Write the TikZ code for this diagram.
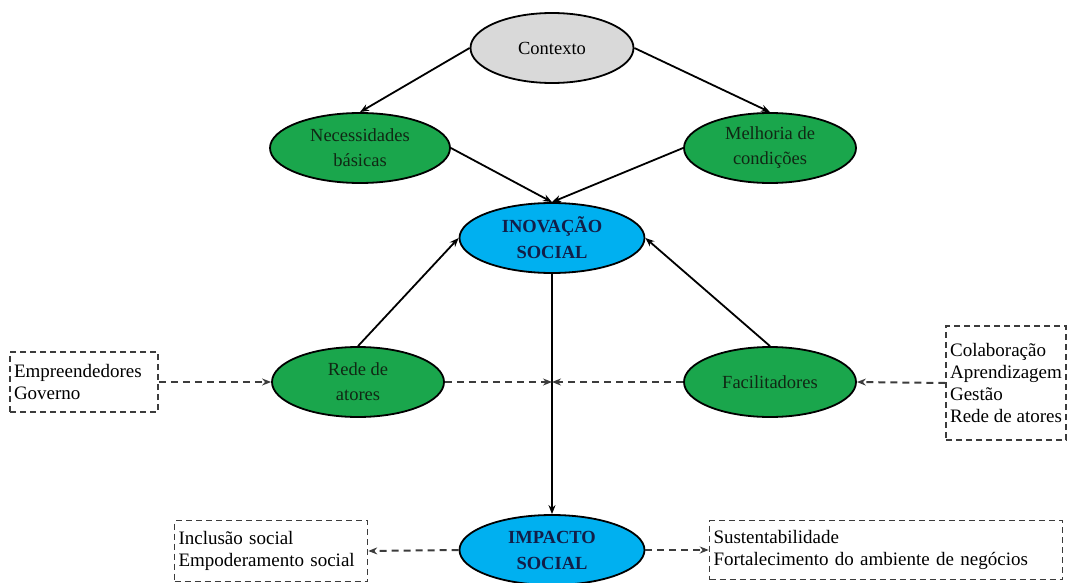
\documentclass[tikz,border=0pt]{standalone}
\usepackage{fontspec}
\setmainfont{Liberation Serif}
\usetikzlibrary{shapes.geometric,arrows.meta}

\definecolor{ellgreen}{RGB}{26,166,76}
\definecolor{ellblue}{RGB}{0,176,240}
\definecolor{ellgray}{RGB}{217,217,217}
\definecolor{navytext}{RGB}{18,30,72}
\definecolor{greentext}{RGB}{16,40,20}
\definecolor{dashgray}{RGB}{60,60,60}

\begin{document}
\begin{tikzpicture}[
        x = 1pt, y = -1pt, % pixel grid, y going down
        ->, % Arrow style
        > = {Stealth[length=9pt,width=7pt]}, % arrow head style
        line width = 1.8pt, % line style
        font = \fontsize{18.5}{25}\selectfont
      ]

      \tikzstyle{state}=[ellipse,draw=black,fill=ellgreen,text=greentext,
        minimum width=172pt,minimum height=70pt,inner sep=0pt,align=center]
      \tikzstyle{core}=[state,fill=ellblue,text=navytext,minimum width=185pt,
        font=\fontsize{18.5}{26}\selectfont\bfseries]
      \tikzstyle{list}=[rectangle,draw=dashgray,line width=1.5pt,
        dash pattern=on 6pt off 4pt,inner sep=4pt,align=left,
        font=\fontsize{19}{22}\selectfont]
      \tikzstyle{link}=[draw=dashgray,line width=2pt,dash pattern=on 7pt off 5pt]

      \useasboundingbox (0,0) rectangle (1068,583);

      \node[state,fill=ellgray,text=black,minimum width=163pt] (ctx) at (552,48) {Contexto};
      \node[state,minimum width=180pt] (nec) at (360,148) {Necessidades\\básicas};
      \node[state] (mel) [right of=nec, node distance=410pt] {Melhoria de\\condições};
      \node[core] (inov) at (552,238) {INOVAÇÃO\\SOCIAL};
      \node[state] (rede) at (358,382) {Rede de\\atores};
      \node[state] (fac) [right of=rede, node distance=412pt] {Facilitadores};
      \node[core] (imp) at (552,550) {IMPACTO\\SOCIAL};

      \node[list,text width=140pt,minimum height=60pt] (emp) at (84,382)
        {Empreendedores\\Governo};
      \node[list,inner sep=3pt,minimum width=120pt,minimum height=114pt] (colab) at (1006,383)
        {Colaboração\\Aprendizagem\\Gestão\\Rede de atores};
      \node[list,text width=185pt,minimum height=61pt] (incl) at (271,551)
        {Inclusão social\\Empoderamento social};
      \node[list,text width=345pt,minimum height=59pt] (sust) at (886,550)
        {Sustentabilidade\\Fortalecimento do ambiente de negócios};

      \coordinate (mid) at (inov.south |- rede.east);

      \draw (ctx.west) -- (nec.north);
      \draw (ctx.east) -- (mel.north);
      \draw (nec.east) -- (inov.north);
      \draw (mel.west) -- (inov.north);
      \draw (rede.north) -- (inov.west);
      \draw (fac.north) -- (inov.east);
      \draw (inov.south) -- (imp.north);

      \draw[link] (emp.east) -- (rede.west);
      \draw[link] (rede.east) -- (mid);
      \draw[link] (fac.west) -- (mid);
      \draw[link] (colab.west) -- (fac.east);
      \draw[link] (imp.west) -- (incl.east);
      \draw[link] (imp.east) -- (sust.west);

    \end{tikzpicture}
\end{document}
